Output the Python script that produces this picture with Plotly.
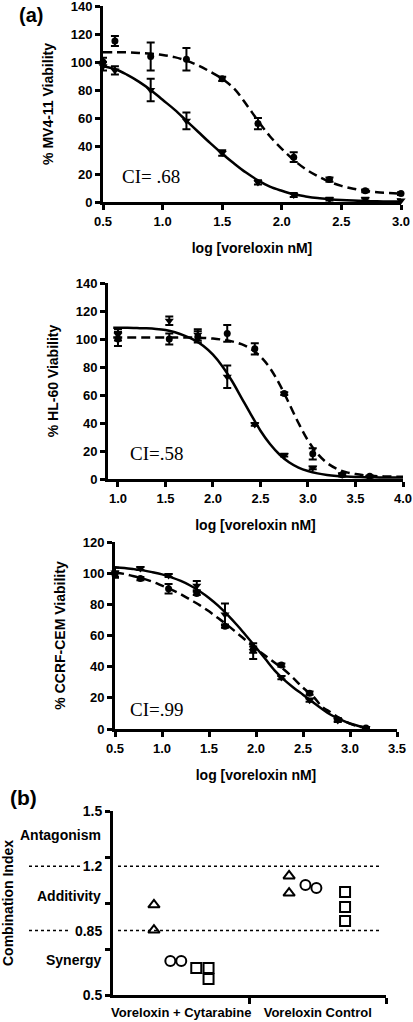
import plotly.graph_objects as go

# ---------------- Panel (a) top: MV4-11 ----------------
mv_x = [0.5, 0.6, 0.9, 1.2, 1.5, 1.8, 2.1, 2.4, 2.7, 3.0]
mv_ctrl = [100, 115, 104, 102, 88, 56, 32, 16, 8, 6]
mv_ctrl_err = [3, 3.5, 10, 8, 1.5, 4, 3.5, 1.5, 1, 1]
mv_combo = [97, 94, 80, 58, 35, 14, 5, 2, 2, 1]
mv_combo_err = [3, 3, 8, 6, 2, 1.5, 1.5, 1, 1, 1]
mv_fit_x = [0.5, 0.6, 0.7, 0.8, 0.9, 1.0, 1.1, 1.2, 1.3, 1.4, 1.5, 1.6, 1.7,
            1.8, 1.9, 2.0, 2.1, 2.2, 2.3, 2.4, 2.5, 2.6, 2.7, 2.8, 2.9, 3.0]
mv_fit_ctrl = [107, 107, 107, 106.5, 106, 105, 103.5, 101, 97.5, 93, 88, 81, 70,
               58, 47, 38, 30, 23.5, 18.5, 14.5, 11.5, 9.5, 8, 7, 6.5, 6]
mv_fit_combo = [97, 95, 91, 86, 80, 73, 66, 58, 50, 42, 34.5, 27.5, 21,
                15.5, 11, 8, 5.5, 4, 2.8, 2, 1.4, 1, 0.7, 0.5, 0.4, 0.3]

# ---------------- Panel (a) middle: HL-60 ----------------
hl_x = [1.0, 1.54, 1.84, 2.15, 2.44, 2.75, 3.05, 3.36, 3.65]
hl_ctrl = [100, 100, 101.5, 104, 93, 61, 18, 3, 2]
hl_ctrl_err = [5, 4, 4, 6, 4, 1, 4, 1, 0.5]
hl_combo = [103, 113, 103, 73, 39, 17, 8, 3, 1.5]
hl_combo_err = [4, 3, 4, 8, 1, 1, 1, 1, 0.5]
hl_fit_x = [0.95, 1.0, 1.1, 1.2, 1.3, 1.4, 1.5, 1.6, 1.7, 1.8, 1.9, 2.0, 2.1, 2.2,
            2.3, 2.4, 2.5, 2.6, 2.7, 2.8, 2.9, 3.0, 3.1, 3.2, 3.3, 3.4, 3.5, 3.6,
            3.7, 3.8, 3.9, 4.0]
hl_fit_ctrl = [101, 101, 101, 101, 101, 101, 101, 101, 101, 101, 100.8, 100.3, 99.5,
               98.3, 96.3, 92.9, 87.4, 79.2, 67.8, 54.1, 40, 27.5, 18.1, 11.5, 7.4,
               4.9, 3.5, 2.6, 2.1, 1.85, 1.7, 1.6]
hl_fit_combo = [108, 108, 108, 107.8, 107.6, 107.2, 106.4, 104.8, 102.4, 99.4, 95,
                88.8, 80.4, 70, 58, 46, 34.5, 25, 17.5, 12, 8.2, 5.7, 4, 2.9, 2.2,
                1.8, 1.5, 1.3, 1.2, 1.1, 1.05, 1.0]

# ---------------- Panel (a) bottom: CCRF-CEM ----------------
cem_x = [0.5, 0.77, 1.07, 1.37, 1.67, 1.97, 2.27, 2.57, 2.87, 3.17]
cem_ctrl = [99, 96.5, 90, 87, 66, 51, 41, 23, 6, 0.6]
cem_ctrl_err = [2, 1, 3, 1, 1, 2, 1, 1, 1, 0.5]
cem_combo = [100.5, 103, 98.5, 92, 73.5, 50, 33, 18.5, 5.5, 0.6]
cem_combo_err = [3, 1, 1, 3, 7, 5, 1, 1, 1, 0.5]
cem_fit_x = [0.5, 0.6, 0.7, 0.8, 0.9, 1.0, 1.1, 1.2, 1.3, 1.4, 1.5, 1.6, 1.7, 1.8,
             1.9, 2.0, 2.1, 2.2, 2.3, 2.4, 2.5, 2.6, 2.7, 2.8, 2.9, 3.0, 3.1, 3.17]
cem_fit_ctrl = [100.5, 99.5, 98, 96.5, 94.5, 92, 89.5, 86.5, 83, 79.5, 75.5, 71,
                66.5, 61.5, 56.5, 51.5, 47, 42.5, 38, 32.5, 26.5, 21.5, 14.5, 10.5,
                6.5, 3.5, 1.5, 0.8]
cem_fit_combo = [103.8, 103.3, 102.6, 101.8, 100.6, 99.2, 97.3, 95, 92.1, 88.4, 84.1,
                 79, 73.1, 66.6, 59.5, 52.3, 44.9, 37.5, 31.5, 26.5, 22, 17.5, 13,
                 9, 6, 3.5, 1.8, 1.0]

# ---------------- Panel (b): combination index ----------------
ci_groups = ["Voreloxin + Cytarabine", "Voreloxin Control"]
ci_tri_x = [0.30, 0.30, 1.29, 1.29]
ci_tri_y = [0.99, 0.853, 1.147, 1.054]
ci_circ_x = [0.42, 0.50, 1.41, 1.49]
ci_circ_y = [0.685, 0.685, 1.098, 1.082]
ci_sq_x = [0.61, 0.70, 0.70, 1.70, 1.70, 1.70]
ci_sq_y = [0.647, 0.647, 0.587, 1.06, 0.978, 0.902]
ci_thresholds = [1.2, 0.85]
ci_regions = ["Antagonism", "Additivity", "Synergy"]
ci_region_y = [1.37, 1.04, 0.69]

W, H = 413, 1022
def px(x):
    return x / W
def py(y):
    return 1 - y / H

SANS = "Liberation Sans"
SERIF = "Liberation Serif"
BLACK = "black"

fig = go.Figure()

def add_panel(n, xs, ctrl, ctrl_err, combo, combo_err, fx, fctrl, fcombo):
    xa = "x" if n == 1 else f"x{n}"
    ya = "y" if n == 1 else f"y{n}"
    fig.add_trace(go.Scatter(x=fx, y=fctrl, mode="lines", xaxis=xa, yaxis=ya,
                             line=dict(color=BLACK, width=2.5, dash="9px,5px", shape="spline"),
                             hoverinfo="skip", showlegend=False, cliponaxis=False))
    fig.add_trace(go.Scatter(x=fx, y=fcombo, mode="lines", xaxis=xa, yaxis=ya,
                             line=dict(color=BLACK, width=2.5, shape="spline"),
                             hoverinfo="skip", showlegend=False, cliponaxis=False))
    fig.add_trace(go.Scatter(x=xs, y=ctrl, mode="markers", xaxis=xa, yaxis=ya,
                             marker=dict(symbol="circle", size=7, color=BLACK),
                             error_y=dict(type="data", array=ctrl_err, color=BLACK,
                                          thickness=2, width=4),
                             showlegend=False, cliponaxis=False))
    fig.add_trace(go.Scatter(x=xs, y=combo, mode="markers", xaxis=xa, yaxis=ya,
                             marker=dict(symbol="triangle-down", size=8, color=BLACK),
                             error_y=dict(type="data", array=combo_err, color=BLACK,
                                          thickness=2, width=4),
                             showlegend=False, cliponaxis=False))

add_panel(1, mv_x, mv_ctrl, mv_ctrl_err, mv_combo, mv_combo_err,
          mv_fit_x, mv_fit_ctrl, mv_fit_combo)
add_panel(2, hl_x, hl_ctrl, hl_ctrl_err, hl_combo, hl_combo_err,
          hl_fit_x, hl_fit_ctrl, hl_fit_combo)
add_panel(3, cem_x, cem_ctrl, cem_ctrl_err, cem_combo, cem_combo_err,
          cem_fit_x, cem_fit_ctrl, cem_fit_combo)

# Panel (b) markers
for sx, sy, sym in [(ci_tri_x, ci_tri_y, "triangle-up-open"),
                    (ci_circ_x, ci_circ_y, "circle-open"),
                    (ci_sq_x, ci_sq_y, "square-open")]:
    fig.add_trace(go.Scatter(x=sx, y=sy, mode="markers", xaxis="x4", yaxis="y4",
                             marker=dict(symbol=sym, size=10, color=BLACK,
                                         line=dict(color=BLACK, width=2)),
                             showlegend=False, cliponaxis=False))

tickfont = dict(family=SANS, size=13, color=BLACK, weight="bold")
titlefont = dict(family=SANS, size=14, color=BLACK, weight="bold")

def axis(**kw):
    d = dict(showline=True, linecolor=BLACK, linewidth=3, ticks="outside",
             ticklen=5, tickwidth=2.5, tickcolor=BLACK, showgrid=False,
             zeroline=False, tickfont=tickfont, automargin=False, fixedrange=True,
             ticklabeloverflow="allow")
    d.update(kw)
    return d

xtitle = "log [voreloxin nM]"
fig.update_layout(
    width=W, height=H, margin=dict(l=0, r=0, t=0, b=0),
    paper_bgcolor="white", plot_bgcolor="white", template="none",
    xaxis=axis(domain=[px(103), px(401)], range=[0.5, 3.0], anchor="y",
               tickvals=[0.5, 1.0, 1.5, 2.0, 2.5, 3.0],
               ticktext=["0.5", "1.0", "1.5", "2.0", "2.5", "3.0"],
               title=dict(text=xtitle, font=titlefont, standoff=16)),
    yaxis=axis(domain=[py(202), py(6)], range=[0, 140], anchor="x",
               tickvals=[0, 20, 40, 60, 80, 100, 120, 140],
               title=dict(text="% MV4-11 Viability", font=titlefont, standoff=14)),
    xaxis2=axis(domain=[px(108), px(403)], range=[0.895, 4.0], anchor="y2",
                tickvals=[1.0, 1.5, 2.0, 2.5, 3.0, 3.5, 4.0],
                ticktext=["1.0", "1.5", "2.0", "2.5", "3.0", "3.5", "4.0"],
                title=dict(text=xtitle, font=titlefont, standoff=16)),
    yaxis2=axis(domain=[py(479), py(283)], range=[0, 140], anchor="x2",
                tickvals=[0, 20, 40, 60, 80, 100, 120, 140],
                title=dict(text="% HL-60 Viability", font=titlefont, standoff=14)),
    xaxis3=axis(domain=[px(115), px(397)], range=[0.5, 3.5], anchor="y3",
                tickvals=[0.5, 1.0, 1.5, 2.0, 2.5, 3.0, 3.5],
                ticktext=["0.5", "1.0", "1.5", "2.0", "2.5", "3.0", "3.5"],
                title=dict(text=xtitle, font=titlefont, standoff=16)),
    yaxis3=axis(domain=[py(729), py(542)], range=[0, 120], anchor="x3",
                tickvals=[0, 20, 40, 60, 80, 100, 120],
                title=dict(text="% CCRF-CEM Viability", font=titlefont, standoff=14)),
    xaxis4=axis(domain=[px(113), px(386)], range=[0, 2], anchor="y4",
                tickvals=[0.5, 1.5], ticktext=ci_groups,
                tickcolor="rgba(0,0,0,0)", ticklen=3,
                minor=dict(tickmode="array", tickvals=[1, 2], ticks="outside",
                           ticklen=6, tickwidth=2.5, tickcolor=BLACK)),
    yaxis4=axis(domain=[py(995), py(811)], range=[0.5, 1.5], anchor="x4",
                tickvals=[0.5, 0.85, 1.2, 1.5], ticktext=["0.5", "0.85", "1.2", "1.5"],
                tickcolor="rgba(0,0,0,0)", ticklen=5,
                tickfont=dict(family=SANS, size=14, color=BLACK, weight="bold"),
                minor=dict(tickmode="array", tickvals=[0.5, 0.75, 1.0, 1.25, 1.5],
                           ticks="outside", ticklen=5, tickwidth=2.5, tickcolor=BLACK),
                title=dict(text="Combination Index", font=titlefont, standoff=62)),
)

annotations = [
    dict(text="(a)", x=px(17), y=py(15), xanchor="left", yanchor="middle",
         font=dict(family=SANS, size=20, color=BLACK, weight="bold")),
    dict(text="(b)", x=px(8), y=py(797), xanchor="left", yanchor="middle",
         font=dict(family=SANS, size=21, color=BLACK, weight="bold")),
    dict(text="CI= .68", x=px(120), y=py(177), xanchor="left", yanchor="middle",
         font=dict(family=SERIF, size=19, color=BLACK)),
    dict(text="CI=.58", x=px(128), y=py(453), xanchor="left", yanchor="middle",
         font=dict(family=SERIF, size=19, color=BLACK)),
    dict(text="CI=.99", x=px(128), y=py(709), xanchor="left", yanchor="middle",
         font=dict(family=SERIF, size=19, color=BLACK)),
]
for name, yv in zip(ci_regions, ci_region_y):
    annotations.append(dict(text=name, x=px(103), xref="paper", y=yv, yref="y4",
                            xanchor="right", yanchor="middle",
                            font=dict(family=SANS, size=14, color=BLACK, weight="bold")))
for a in annotations:
    a.setdefault("xref", "paper")
    a.setdefault("yref", "paper")
    a["showarrow"] = False
fig.update_layout(annotations=annotations)

# dotted threshold lines (left segment before label, right segment across plot)
left_ends = [px(83), px(70)]
for thr, lend in zip(ci_thresholds, left_ends):
    fig.add_shape(type="line", xref="paper", yref="y4", x0=px(29), x1=lend, y0=thr, y1=thr,
                  line=dict(color=BLACK, width=1.5, dash="dot"))
    fig.add_shape(type="line", xref="paper", yref="y4", x0=px(118), x1=px(381), y0=thr, y1=thr,
                  line=dict(color=BLACK, width=1.5, dash="dot"))

fig.write_html(
    "out.html",
    config={"displayModeBar": False},
    post_script="document.body.style.margin='0';document.body.style.padding='0';"
                "document.documentElement.style.overflow='hidden';",
)
